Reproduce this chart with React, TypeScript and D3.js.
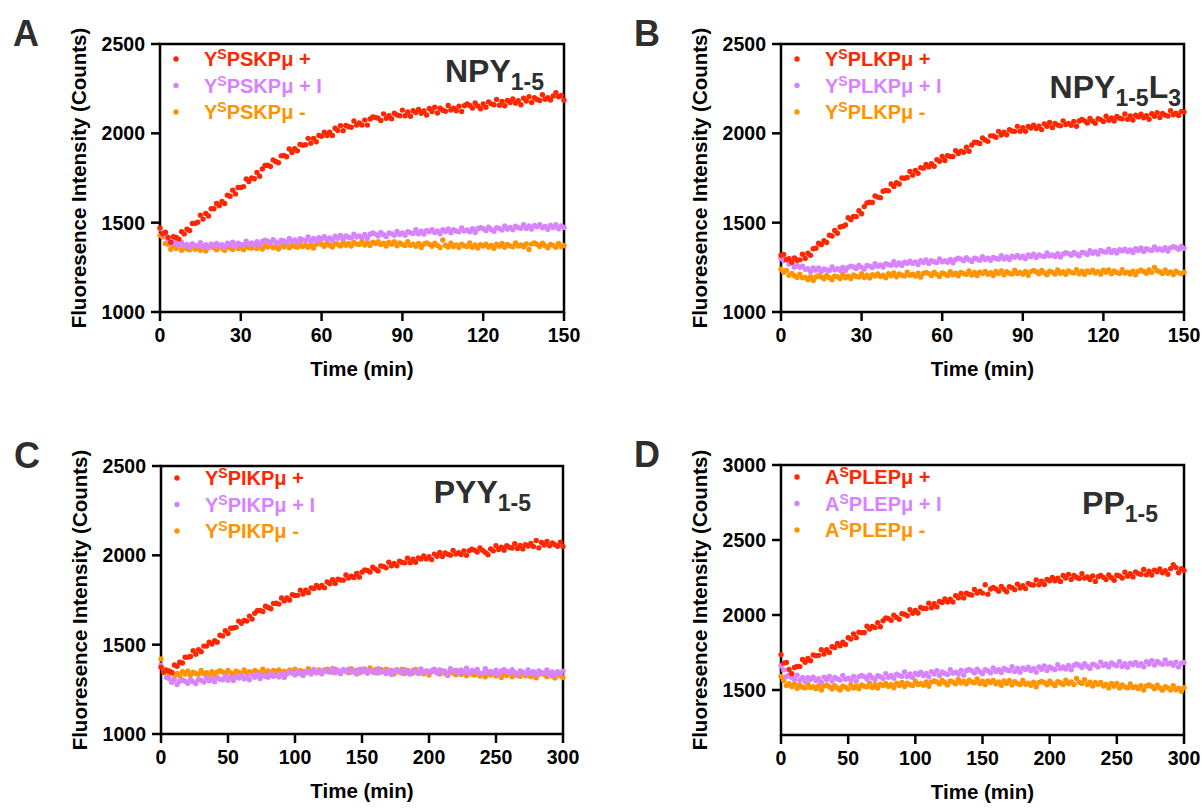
import React from 'react';
import * as d3 from 'd3';

const RED = '#FF2600';
const PURPLE = '#D783FF';
const ORANGE = '#FF9300';
const INK = '#2e2e2e';
const FONT = "'Liberation Sans', Arial, Helvetica, sans-serif";

// sampling times (minutes)
const timeA = d3.range(0, 151, 1);
const timeC = d3.range(0, 301, 2);

const xTicks150 = [0, 30, 60, 90, 120, 150];
const xTicks300 = [0, 50, 100, 150, 200, 250, 300];
const yTicksABC = [1000, 1500, 2000, 2500];
const yTicksD = [1500, 2000, 2500, 3000];

const labelsA = ['PSKPμ +', 'PSKPμ + I', 'PSKPμ -'];
const labelsB = ['PLKPμ +', 'PLKPμ + I', 'PLKPμ -'];
const labelsC = ['PIKPμ +', 'PIKPμ + I', 'PIKPμ -'];
const labelsD = ['PLEPμ +', 'PLEPμ + I', 'PLEPμ -'];

const titleA = [{ t: 'NPY', sub: false }, { t: '1-5', sub: true }];
const titleB = [{ t: 'NPY', sub: false }, { t: '1-5', sub: true }, { t: 'L', sub: false }, { t: '3', sub: true }];
const titleC = [{ t: 'PYY', sub: false }, { t: '1-5', sub: true }];
const titleD = [{ t: 'PP', sub: false }, { t: '1-5', sub: true }];

// Panel A: NPY1-5 (every 1 min)
const aRed = [
1471,1438,1446,1417,1390,1421,1417,1408,1450,1437,
1464,1456,1496,1496,1502,1542,1520,1552,1538,1578,
1578,1607,1595,1619,1607,1654,1648,1682,1661,1697,
1697,1702,1745,1730,1750,1746,1781,1760,1801,1820,
1821,1815,1851,1842,1835,1874,1876,1869,1912,1893,
1914,1902,1938,1934,1936,1972,1945,1972,1953,1988,
1983,2006,1988,2006,1988,2029,2016,2043,2015,2044,
2037,2034,2069,2046,2058,2046,2074,2046,2080,2092,
2089,2085,2072,2109,2084,2099,2082,2112,2103,2099,
2130,2098,2120,2096,2126,2116,2134,2112,2125,2103,
2139,2122,2146,2114,2140,2129,2124,2156,2131,2140,
2126,2152,2122,2154,2164,2156,2142,2170,2153,2138,
2164,2146,2175,2165,2160,2190,2157,2179,2154,2184,
2173,2192,2169,2183,2160,2197,2181,2205,2173,2199,
2189,2184,2216,2191,2200,2186,2209,2228,2205,2212,
2185];
const aPurple = [
1464,1433,1431,1403,1382,1394,1384,1371,1391,1371,
1378,1363,1382,1373,1369,1388,1365,1377,1360,1379,
1371,1383,1368,1376,1361,1385,1374,1390,1368,1385,
1378,1374,1396,1380,1386,1377,1394,1373,1395,1402,
1396,1386,1405,1392,1382,1402,1398,1389,1411,1394,
1403,1390,1410,1403,1400,1420,1398,1412,1396,1416,
1409,1421,1406,1415,1400,1424,1413,1429,1408,1425,
1418,1414,1436,1420,1426,1417,1434,1413,1435,1442,
1436,1426,1445,1432,1422,1442,1438,1429,1451,1434,
1443,1430,1450,1443,1440,1460,1438,1452,1436,1456,
1449,1460,1445,1453,1438,1461,1450,1465,1444,1460,
1453,1449,1470,1453,1459,1449,1466,1445,1466,1472,
1466,1456,1475,1462,1452,1472,1468,1459,1481,1464,
1473,1460,1480,1472,1469,1489,1467,1481,1464,1484,
1477,1488,1471,1479,1463,1485,1473,1488,1466,1481,
1473];
const aOrange = [
1429,1420,1384,1379,1351,1370,1355,1369,1346,1362,
1353,1348,1369,1351,1356,1346,1363,1341,1361,1367,
1360,1349,1368,1355,1345,1364,1359,1350,1372,1355,
1363,1349,1369,1361,1358,1377,1355,1368,1352,1371,
1364,1375,1360,1368,1353,1376,1365,1380,1359,1375,
1368,1363,1385,1367,1373,1363,1380,1358,1379,1385,
1379,1368,1387,1374,1364,1383,1379,1369,1392,1374,
1383,1369,1389,1381,1378,1397,1375,1388,1372,1391,
1384,1394,1378,1385,1369,1391,1379,1393,1371,1386,
1378,1372,1393,1374,1379,1368,1384,1361,1381,1386,
1379,1368,1385,1372,1361,1403,1374,1364,1385,1367,
1375,1361,1379,1371,1367,1386,1362,1375,1358,1377,
1369,1380,1364,1373,1357,1380,1368,1384,1362,1378,
1370,1365,1387,1369,1375,1365,1381,1350,1380,1386,
1379,1367,1385,1371,1360,1378,1373,1362,1384,1365,
1373];

// Panel B: NPY1-5L3 (every 1 min)
const bRed = [
1318,1322,1293,1299,1279,1302,1290,1292,1323,1300,
1329,1317,1354,1357,1385,1377,1399,1389,1430,1425,
1456,1441,1476,1479,1487,1528,1517,1535,1534,1567,
1550,1590,1610,1614,1613,1649,1643,1640,1676,1680,
1678,1717,1703,1724,1716,1750,1749,1753,1787,1766,
1792,1776,1808,1805,1826,1812,1830,1816,1853,1844,
1871,1848,1875,1870,1870,1903,1887,1900,1894,1922,
1900,1935,1950,1949,1943,1974,1963,1955,1986,1985,
1978,2011,1991,2006,1992,2020,2013,2011,2039,2012,
2032,2011,2038,2030,2046,2027,2040,2021,2053,2039,
2061,2033,2056,2046,2042,2070,2049,2056,2045,2067,
2040,2069,2078,2070,2058,2083,2068,2056,2082,2077,
2066,2096,2073,2086,2069,2094,2085,2081,2108,2079,
2097,2075,2101,2092,2107,2087,2099,2079,2110,2095,
2116,2089,2111,2102,2097,2126,2104,2112,2100,2123,
2120];
const bPurple = [
1300,1288,1296,1268,1272,1251,1261,1250,1256,1239,
1242,1226,1246,1234,1247,1226,1241,1235,1232,1252,
1236,1242,1234,1250,1232,1250,1257,1252,1244,1261,
1250,1241,1260,1257,1249,1270,1256,1264,1252,1271,
1265,1262,1281,1262,1274,1260,1279,1273,1284,1272,
1280,1266,1287,1277,1292,1272,1287,1281,1277,1297,
1281,1287,1279,1294,1276,1294,1301,1296,1287,1304,
1293,1283,1301,1297,1289,1309,1294,1301,1289,1306,
1300,1297,1315,1296,1308,1294,1312,1306,1317,1304,
1312,1298,1320,1309,1324,1305,1320,1314,1310,1330,
1314,1320,1311,1326,1308,1325,1332,1327,1317,1334,
1323,1314,1333,1330,1322,1343,1329,1337,1325,1344,
1338,1335,1352,1333,1345,1330,1348,1342,1352,1339,
1347,1333,1354,1344,1359,1339,1354,1348,1344,1364,
1348,1354,1345,1360,1341,1359,1366,1360,1351,1367,
1356];
const bOrange = [
1239,1222,1232,1205,1216,1203,1193,1212,1191,1194,
1181,1197,1176,1196,1203,1196,1186,1204,1192,1181,
1201,1197,1187,1210,1192,1201,1187,1207,1199,1196,
1215,1193,1206,1190,1209,1202,1213,1198,1206,1191,
1214,1203,1218,1197,1213,1206,1201,1223,1205,1211,
1201,1217,1195,1216,1222,1215,1204,1223,1210,1199,
1218,1213,1204,1226,1208,1217,1203,1222,1215,1211,
1230,1207,1221,1204,1223,1216,1227,1211,1220,1204,
1227,1215,1230,1209,1225,1217,1212,1234,1216,1221,
1211,1227,1205,1226,1232,1225,1214,1233,1220,1209,
1228,1223,1213,1235,1217,1225,1211,1230,1222,1218,
1237,1214,1228,1211,1230,1222,1234,1218,1226,1211,
1234,1222,1236,1214,1230,1221,1216,1237,1218,1223,
1213,1229,1208,1228,1234,1227,1217,1235,1222,1250,
1231,1225,1215,1236,1217,1224,1210,1228,1219,1215,
1223];

// Panel C: PYY1-5 (every 2 min)
const cRed = [
1373,1346,1357,1353,1344,1386,1379,1402,1397,1430,
1430,1434,1466,1447,1472,1461,1492,1492,1514,1504,
1522,1514,1553,1549,1578,1563,1592,1593,1597,1632,
1620,1635,1632,1660,1643,1676,1691,1691,1686,1715,
1708,1701,1731,1732,1727,1761,1745,1761,1750,1779,
1775,1776,1805,1783,1805,1791,1818,1814,1832,1818,
1832,1818,1851,1841,1864,1843,1867,1862,1861,1890,
1873,1883,1876,1899,1878,1906,1918,1915,1907,1933,
1923,1913,1940,1938,1930,1961,1942,1955,1941,1967,
1960,1958,1984,1959,1978,1961,1986,1980,1996,1980,
1992,1976,2007,1995,2016,1993,2013,2006,2001,2028,
2007,2015,2004,2025,2000,2026,2035,2029,2018,2041,
2028,2016,2003,2036,2025,2054,2033,2045,2029,2054,
2045,2041,2065,2038,2055,2036,2060,2052,2067,2049,
2083,2042,2072,2058,2078,2053,2070,2059,2051,2074,
2050];
const cPurple = [
1385,1355,1316,1311,1290,1305,1277,1295,1303,1295,
1284,1306,1293,1283,1305,1301,1291,1316,1298,1307,
1293,1315,1307,1304,1325,1301,1316,1299,1321,1313,
1326,1309,1319,1303,1329,1317,1334,1311,1330,1322,
1317,1341,1323,1329,1319,1338,1316,1338,1347,1340,
1330,1351,1339,1328,1351,1346,1336,1361,1343,1352,
1338,1359,1350,1347,1367,1342,1356,1339,1360,1351,
1363,1345,1354,1336,1361,1348,1364,1340,1357,1348,
1342,1365,1346,1350,1339,1357,1333,1353,1360,1352,
1340,1360,1346,1335,1356,1350,1339,1364,1345,1353,
1344,1355,1362,1341,1358,1347,1352,1333,1366,1349,
1357,1340,1359,1345,1368,1343,1355,1349,1361,1337,
1342,1365,1346,1350,1339,1357,1333,1353,1360,1352,
1340,1360,1345,1333,1353,1347,1336,1359,1340,1348,
1333,1353,1344,1339,1359,1333,1347,1328,1349,1339,
1351];
const cOrange = [
1420,1364,1352,1339,1345,1330,1339,1324,1348,1336,
1352,1330,1346,1339,1334,1355,1337,1343,1333,1349,
1327,1347,1354,1347,1336,1355,1342,1331,1351,1346,
1336,1358,1341,1349,1335,1355,1347,1343,1363,1340,
1353,1336,1355,1348,1359,1343,1351,1336,1359,1347,
1362,1340,1356,1349,1344,1365,1347,1353,1343,1359,
1337,1357,1363,1356,1345,1363,1350,1339,1358,1353,
1343,1365,1348,1356,1342,1362,1354,1350,1370,1347,
1360,1342,1361,1352,1363,1346,1354,1337,1360,1347,
1362,1339,1355,1346,1341,1361,1343,1347,1337,1352,
1330,1349,1355,1347,1336,1353,1340,1328,1347,1341,
1331,1352,1333,1341,1326,1344,1335,1330,1349,1325,
1337,1320,1339,1330,1341,1325,1333,1316,1339,1327,
1342,1320,1336,1328,1323,1344,1326,1331,1321,1337,
1315,1335,1340,1333,1321,1339,1325,1314,1332,1327,
1316];

// Panel D: PP1-5 (every 2 min)
const dRed = [
1736,1679,1683,1637,1609,1650,1657,1656,1703,1685,
1710,1695,1734,1729,1731,1769,1740,1769,1750,1788,
1783,1811,1795,1818,1803,1849,1840,1874,1849,1885,
1882,1883,1925,1906,1923,1916,1949,1922,1962,1980,
1976,1965,1999,1984,1971,2008,2005,1995,2035,2012,
2030,2013,2050,2043,2043,2079,2048,2075,2054,2090,
2083,2107,2087,2106,2087,2129,2115,2144,2114,2145,
2137,2133,2170,2146,2158,2146,2202,2139,2173,2184,
2174,2159,2190,2171,2155,2188,2182,2169,2206,2180,
2195,2176,2211,2202,2200,2234,2201,2226,2203,2237,
2228,2250,2228,2245,2224,2264,2246,2271,2237,2264,
2252,2243,2275,2246,2253,2236,2260,2224,2255,2264,
2251,2236,2267,2248,2232,2265,2260,2247,2285,2259,
2275,2254,2287,2276,2272,2304,2269,2292,2267,2299,
2288,2307,2282,2296,2272,2309,2336,2316,2282,2309,
2297];
const dPurple = [
1660,1634,1590,1601,1584,1572,1598,1565,1582,1556,
1582,1571,1586,1564,1575,1552,1586,1569,1591,1560,
1583,1573,1566,1597,1571,1579,1566,1590,1559,1588,
1597,1589,1574,1599,1582,1568,1595,1589,1577,1609,
1585,1597,1579,1606,1597,1592,1620,1589,1607,1584,
1612,1602,1618,1597,1610,1588,1622,1606,1628,1597,
1620,1610,1604,1635,1611,1619,1606,1630,1599,1628,
1637,1629,1614,1639,1622,1608,1635,1629,1615,1647,
1623,1635,1617,1643,1633,1628,1656,1624,1643,1619,
1646,1636,1652,1630,1642,1620,1654,1638,1660,1630,
1653,1643,1637,1669,1644,1653,1640,1664,1635,1664,
1673,1665,1650,1675,1658,1644,1672,1666,1654,1686,
1663,1674,1654,1680,1668,1662,1689,1657,1675,1651,
1678,1668,1684,1664,1676,1655,1689,1673,1696,1666,
1690,1679,1671,1701,1674,1681,1665,1686,1653,1678,
1683];
const dOrange = [
1590,1563,1530,1542,1523,1541,1511,1532,1520,1514,
1540,1517,1522,1509,1529,1500,1526,1532,1522,1507,
1529,1513,1500,1525,1519,1506,1536,1514,1526,1509,
1534,1525,1521,1546,1517,1535,1513,1539,1529,1544,
1524,1536,1515,1546,1530,1551,1523,1545,1535,1530,
1558,1536,1543,1531,1553,1525,1553,1561,1553,1540,
1564,1548,1534,1560,1553,1541,1570,1547,1558,1541,
1565,1554,1549,1573,1543,1559,1536,1560,1550,1563,
1542,1553,1531,1561,1544,1564,1534,1555,1543,1537,
1563,1539,1545,1531,1552,1522,1550,1557,1549,1535,
1559,1543,1529,1555,1548,1536,1566,1543,1554,1537,
1577,1551,1544,1568,1536,1552,1527,1550,1538,1550,
1527,1537,1514,1543,1525,1544,1514,1534,1521,1514,
1540,1517,1522,1509,1529,1500,1527,1533,1524,1509,
1532,1514,1499,1522,1514,1500,1528,1502,1512,1492,
1515];

const COLORS = [RED, PURPLE, ORANGE];

const panels = [
  { letter: 'A', left: 160, right: 564, top: 44, bottom: 312, xMax: 150, yDomain: [1000, 2500],
    xTicks: xTicks150, yTicks: yTicksABC, times: timeA, series: [aRed, aPurple, aOrange],
    prefix: 'Y', labels: labelsA, title: titleA, titleX: 544, titleY: 82, legendTop: 15 },
  { letter: 'B', left: 781, right: 1184, top: 44, bottom: 312, xMax: 150, yDomain: [1000, 2500],
    xTicks: xTicks150, yTicks: yTicksABC, times: timeA, series: [bRed, bPurple, bOrange],
    prefix: 'Y', labels: labelsB, title: titleB, titleX: 1181, titleY: 98, legendTop: 15 },
  { letter: 'C', left: 161, right: 563, top: 466, bottom: 734, xMax: 300, yDomain: [1000, 2500],
    xTicks: xTicks300, yTicks: yTicksABC, times: timeC, series: [cRed, cPurple, cOrange],
    prefix: 'Y', labels: labelsC, title: titleC, titleX: 531, titleY: 503, legendTop: 12 },
  { letter: 'D', left: 781, right: 1184, top: 465, bottom: 735, xMax: 300, yDomain: [1200, 3000],
    xTicks: xTicks300, yTicks: yTicksD, times: timeC, series: [dRed, dPurple, dOrange],
    prefix: 'A', labels: labelsD, title: titleD, titleX: 1158, titleY: 514, legendTop: 12 },
];

function Title({ parts, x, y }: any) {
  let cur = 0;
  return (
    <text x={x} y={y} textAnchor="end" fill={INK} fontFamily={FONT} fontWeight="bold">
      {parts.map((p: any, i: number) => {
        const target = p.sub ? 8 : 0;
        const dy = target - cur;
        cur = target;
        return (
          <tspan key={i} dy={dy} fontSize={p.sub ? 23 : 32}>{p.t}</tspan>
        );
      })}
    </text>
  );
}

function Panel({ p }: any) {
  const x = d3.scaleLinear().domain([0, p.xMax]).range([p.left, p.right]);
  const y = d3.scaleLinear().domain(p.yDomain).range([p.bottom, p.top]);
  const midX = (p.left + p.right) / 2;
  const midY = (p.top + p.bottom) / 2;
  const drawOrder = [2, 1, 0];
  return (
    <g fontFamily={FONT} fontWeight="bold">
      <text x={p.left - 147} y={p.top + 2} fontSize={36} fill={INK}>{p.letter}</text>
      <rect x={p.left} y={p.top} width={p.right - p.left} height={p.bottom - p.top}
        fill="none" stroke="#000" strokeWidth={2.5} />
      {p.yTicks.map((v: number) => (
        <g key={'y' + v}>
          <line x1={p.left - 9} x2={p.left} y1={y(v)} y2={y(v)} stroke="#000" strokeWidth={2.5} />
          <text x={p.left - 15} y={y(v)} dy="0.36em" textAnchor="end" fontSize={19.5} fill="#000">{v}</text>
        </g>
      ))}
      {p.xTicks.map((v: number) => (
        <g key={'x' + v}>
          <line x1={x(v)} x2={x(v)} y1={p.bottom} y2={p.bottom + 9} stroke="#000" strokeWidth={2.5} />
          <text x={x(v)} y={p.bottom + 30} textAnchor="middle" fontSize={19.5} fill="#000">{v}</text>
        </g>
      ))}
      <text x={midX} y={p.bottom + 64} textAnchor="middle" fontSize={20.5} fill="#000">Time (min)</text>
      <text transform={`translate(${p.left - 74},${midY}) rotate(-90)`} textAnchor="middle"
        fontSize={20.5} fill="#000">Fluoresence Intensity (Counts)</text>
      {drawOrder.map((si) => (
        <g key={'s' + si} fill={COLORS[si]}>
          {p.series[si].map((v: number, i: number) => (
            <circle key={i} cx={x(p.times[i])} cy={y(v)} r={2.7} />
          ))}
        </g>
      ))}
      {p.labels.map((lab: string, i: number) => {
        const cy = p.top + p.legendTop + i * 26.5;
        return (
          <g key={'l' + i} fill={COLORS[i]}>
            <circle cx={p.left + 16} cy={cy} r={2.7} />
            <text x={p.left + 44} y={cy + 7} fontSize={20}>
              <tspan>{p.prefix}</tspan>
              <tspan dy={-7} fontSize={14}>S</tspan>
              <tspan dy={7}>{lab}</tspan>
            </text>
          </g>
        );
      })}
      <Title parts={p.title} x={p.titleX} y={p.titleY} />
    </g>
  );
}

export default function App() {
  return (
    <svg width={1202} height={810} style={{ position: 'absolute', left: 0, top: 0, background: '#fff' }}>
      <rect width={1202} height={810} fill="#fff" />
      {panels.map((p) => <Panel key={p.letter} p={p} />)}
    </svg>
  );
}
